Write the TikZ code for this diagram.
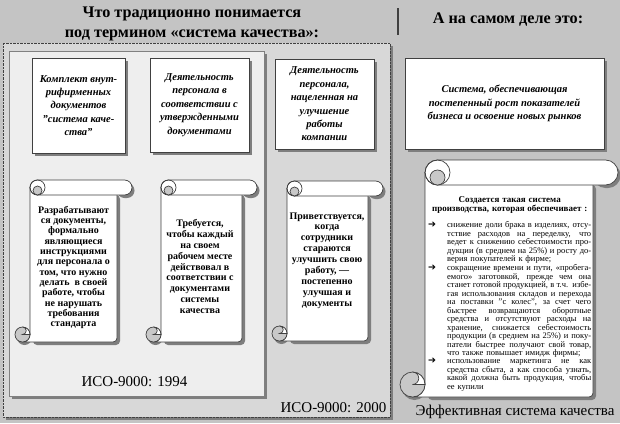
\documentclass[tikz,border=0pt]{standalone}
\usepackage{fontspec}
\setmainfont{Liberation Serif}
\newfontfamily\dejavu{DejaVu Sans}
\usetikzlibrary{calc,shadows}
\definecolor{bg}{HTML}{C4C4C4}
\definecolor{outerfill}{HTML}{D8D8D8}
\definecolor{innerfill}{HTML}{EEEEEE}
\definecolor{shadowgray}{HTML}{7E7E7E}
\definecolor{curlgray}{HTML}{C8C8C8}
\definecolor{edgegray}{HTML}{404040}

\newcommand{\drawscroll}[5]{%
 \pgfmathsetmacro\scrL{#1}\pgfmathsetmacro\scrT{#2}%
 \pgfmathsetmacro\scrR{#3}\pgfmathsetmacro\scrB{#4}%
 \pgfmathsetmacro\scrC{#5}\pgfmathsetmacro\scrH{#5/2}\pgfmathsetmacro\scrQ{#5*0.3}%
 % shadow
 \fill[shadowgray,rounded corners=4] (\scrL+\scrC+3,\scrT+\scrC) rectangle (\scrR-\scrC+3,\scrB+3);
 \fill[shadowgray,rounded corners=\scrH] (\scrR-\scrC,\scrT+3) rectangle (\scrR+2.5,\scrT+\scrC+3);
 \fill[shadowgray] (\scrL+\scrH+2,\scrB-\scrH+3) circle[radius=\scrH];
 % body
 \draw[scrollline,fill=white] (\scrL+\scrC,\scrT+\scrH) -- (\scrL+\scrC,\scrB-\scrH)
   arc[start angle=0,end angle=90,radius=\scrH]
   [rounded corners=4] -- (\scrR-\scrC,\scrB) -- (\scrR-\scrC,\scrT+\scrH) [sharp corners] -- cycle;
 % bottom curl
 \draw[scrollline,fill=curlgray] (\scrL+\scrH,\scrB-\scrH) circle[radius=\scrH];
 \draw[scrollline,fill=white] (\scrL+\scrH,\scrB-\scrC) arc[start angle=-90,end angle=90,radius=\scrH/2]
   -- (\scrL+\scrC,\scrB-\scrH) arc[start angle=0,end angle=-90,radius=\scrH];
 % top roll
 \draw[scrollline,fill=white] (\scrL+\scrC+\scrH,\scrT) -- (\scrR-\scrH,\scrT)
   arc[start angle=-90,end angle=90,radius=\scrH]
   -- (\scrL+\scrC+\scrH,\scrT+\scrC)
   arc[start angle=90,end angle=270,radius=\scrH] -- cycle;
 \draw[scrollline] (\scrL+\scrC+\scrH,\scrT+\scrH) circle[radius=\scrH];
 \draw[scrollline,fill=curlgray] (\scrL+\scrC+\scrH,\scrT+\scrC-\scrQ) circle[radius=\scrQ];
}
\newcommand{\jl}[1]{\noindent\hbox to 144pt{\spaceskip=0.22em plus 1fil\relax #1}\par}
\newcommand{\bul}[1]{\noindent\makebox[19pt][l]{\raisebox{0.2pt}{\dejavu\bfseries\fontsize{9.5}{8}\selectfont ➔}}\parbox[t]{144pt}{\parskip=0pt\parindent=0pt #1}\par}

\begin{document}
\begin{tikzpicture}[x=1pt,y=-1pt,
  scrollline/.style={draw=edgegray,line width=0.7pt},
  boxstyle/.style={draw=edgegray,line width=0.5pt,fill=white,
    drop shadow={shadow xshift=3pt,shadow yshift=-3pt,fill=shadowgray,opacity=1},
    align=center,inner sep=2pt},
  boxtext/.style={font=\fontsize{10.5}{13.4}\selectfont\bfseries\itshape},
  scrolltext/.style={align=center,inner sep=0pt,font=\fontsize{10}{10.9}\selectfont\bfseries},
  title/.style={align=center,inner sep=0pt,font=\fontsize{16.2}{20}\selectfont\bfseries},
  isolabel/.style={inner sep=0pt,font=\fontsize{15}{18}\selectfont}]
\useasboundingbox (0,0) rectangle (620,423);
\fill[bg] (0,0) rectangle (620,423);

% titles
\node[title] (lefttitle) at (192,23.5) {Что традиционно понимается\\под термином «система качества»:};
\draw[edgegray,line width=2pt] (398,8) -- (398,35);
\node[title] (righttitle) at (508,20) {А на самом деле это:};

% outer panel (ISO 2000)
\fill[shadowgray] (6,46) rectangle (393,420);
\draw[draw=edgegray,densely dotted,fill=outerfill] (3,43) rectangle (390,417);
% inner panel (ISO 1994)
\fill[shadowgray] (12,54) rectangle (267,399);
\draw[draw=gray,line width=0.5pt,fill=innerfill] (9,51) rectangle (264,396);

% top boxes
\node[boxstyle,boxtext,minimum width=93,minimum height=95] (box1) at (78.5,105.5)
  {Комплект внут-\\рифирменных\\документов\\"система каче-\\ства"};
\node[boxstyle,boxtext,minimum width=99,minimum height=94] (box2) at (199.5,105)
  {Деятельность\\персонала в\\соответствии с\\утвержденными\\документами};
\node[boxstyle,boxtext,minimum width=99,minimum height=90] (box3) at (324.5,104)
  {Деятельность\\персонала,\\нацеленная на\\улучшение\\работы\\компании};
\node[boxstyle,boxtext,minimum width=199,minimum height=91] (box4) at (504.5,103.5)
  {Система, обеспечивающая\\постепенный рост показателей\\бизнеса и освоение новых рынков};

% scrolls
\drawscroll{15}{180}{132}{342}{15}
\drawscroll{146}{180}{257}{342}{15}
\drawscroll{272}{181}{383}{341}{15}
\drawscroll{400}{160}{618}{397}{25}

\node[scrolltext,font=\fontsize{10}{10.35}\selectfont\bfseries] (scr1) at (73.5,267.5)
  {Разрабатывают\\ся документы,\\формально\\являющиеся\\инструкциями\\для персонала о\\том, что нужно\\делать~ в своей\\работе, чтобы\\не нарушать\\требования\\стандарта};
\node[scrolltext] (scr2) at (200,266.5)
  {Требуется,\\чтобы каждый\\на своем\\рабочем месте\\действовал в\\соответствии с\\документами\\системы\\качества};
\node[scrolltext] (scr3) at (327,260.5)
  {Приветствуется,\\когда\\сотрудники\\стараются\\улучшить свою\\работу, —\\постепенно\\улучшая и\\документы};

\node[anchor=north west,inner sep=0pt,text width=163pt,font=\fontsize{8.5}{8.5}\selectfont] (facts) at (428,196.5)
{%
 {\centering\bfseries\fontsize{9}{9}\selectfont Создается такая система\\производства, которая обеспечивает :\par}
 \vspace{7.5pt}
 \bul{\jl{снижение доли брака в изделиях, отсу-}\jl{тствие расходов на переделку, что}\jl{ведет к снижению себестоимости про-}\jl{дукции (в среднем на 25\%) и росту до-}верия покупателей к фирме;}
 \bul{\jl{сокращение времени и пути, «пробега-}\jl{емого» заготовкой, прежде чем она}\jl{станет готовой продукцией, в т.ч. избе-}\jl{гая использования складов и перехода}\jl{на поставки "с колес", за счет чего}\jl{быстрее возвращаются оборотные}\jl{средства и отсутствуют расходы на}\jl{хранение, снижается себестоимость}\jl{продукции (в среднем на 25\%) и поку-}\jl{патели быстрее получают свой товар,}что также повышает имидж фирмы;}
 \bul{\jl{использование маркетинга не как}\jl{средства сбыта, а как способа узнать,}\jl{какой должна быть продукция, чтобы}ее купили}
};

\node[isolabel] (iso1994) at (134.5,382) {ИСО-9000: 1994};
\node[isolabel] (iso2000) at (333.5,408) {ИСО-9000: 2000};
\node[isolabel] (effective) at (515,412) {Эффективная система качества};
\end{tikzpicture}
\end{document}
